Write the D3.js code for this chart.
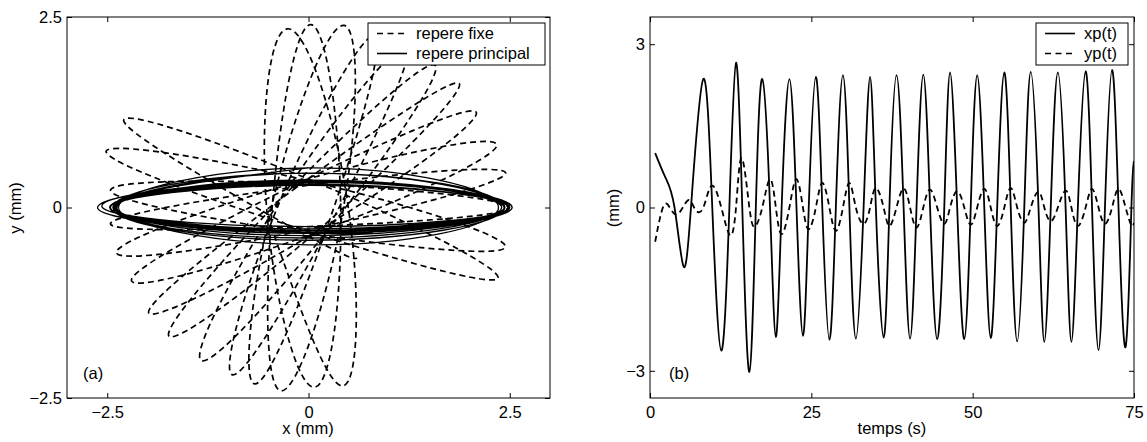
<!DOCTYPE html>
<html>
<head>
<meta charset="utf-8">
<script src="https://cdn.jsdelivr.net/npm/d3@7"></script>
<style>
body { margin: 0; background: #fff; }
text { font-family: "Liberation Sans", Arial, Helvetica, sans-serif; font-size: 16.5px; fill: #000; }
</style>
</head>
<body>
<script>
// panel (b), start of the record (before the motion settles)
var xpT0 = [0.8, 2.4, 3.8, 5.16, 6.35, 8.26, 9.65, 11.05, 12.3, 13.33, 14.3, 15.4, 16.4, 17.4];
var xpV0 = [1.0, 0.55, 0, -1.07, 0, 2.36, 0, -2.63, 0, 2.66, 0, -3.02, 0, 2.36];
var ypT0 = [0.8, 1.55, 2.58, 4.13, 5.84, 6.97, 8.26, 9.55, 11.05, 12.4, 13.33, 14.2, 15.4, 16.27, 17.4];
var ypV0 = [-0.63, -0.19, 0.07, -0.13, 0.13, -0.03, 0, 0.40, 0, -0.51, 0, 0.91, 0, -0.35, 0];

// settled part, sampled at the extrema / zero crossings (used by both panels)
var tq = [18.6, 19.5, 20.4, 21.6, 22.7, 23.7, 24.6, 25.7, 26.7, 27.8, 28.8, 29.9, 30.9, 31.9,
  33.1, 34.1, 35.0, 36.2, 37.1, 38.2, 39.3, 40.3, 41.3, 42.35, 43.4, 44.5, 45.6, 46.5, 47.6, 48.7,
  49.7, 50.7, 51.8, 52.8, 53.8, 54.9, 55.9, 56.9, 58.0, 59.0, 60.2, 61.1, 62.1, 63.2, 64.4, 65.3,
  66.3, 67.5, 68.5, 69.5, 70.5, 71.6, 72.6, 73.7, 74.6, 75.0];
var xq = [0, -2.38, 0, 2.36, 0, -2.36, 0, 2.40, 0, -2.43, 0, 2.43, 0, -2.41,
  0, 2.40, 0, -2.39, 0, 2.43, 0, -2.41, 0, 2.44, 0, -2.42, 0, 2.48, 0, -2.42,
  0, 2.43, 0, -2.40, 0, 2.48, 0, -2.46, 0, 2.49, 0, -2.47, 0, 2.48, 0, -2.47,
  0, 2.50, 0, -2.62, 0, 2.53, 0, -2.56, 0, 0.85];
var yq = [0.52, 0, -0.49, 0, 0.52, 0, -0.40, 0, 0.45, 0, -0.43, 0, 0.45, 0,
  -0.30, 0, 0.36, 0, -0.34, 0, 0.35, 0, -0.37, 0, 0.33, 0, -0.30, 0, 0.30, 0,
  -0.32, 0, 0.34, 0, -0.34, 0, 0.36, 0, -0.28, 0, 0.29, 0, -0.25, 0, 0.31, 0,
  -0.34, 0, 0.34, 0, -0.30, 0, 0.34, 0, -0.33, -0.28];
// orientation of the principal frame in the fixed frame (deg), read from the petals of (a)
var thq = [102.5, 100.4, 98.4, 96.4, 94, 91.7, 90.5, 89.3, 85.6, 81.9, 80.7, 79.5, 76.6, 73.8,
  71.9, 70, 68.3, 66.6, 63.3, 60, 58.2, 56.4, 53.1, 49.9, 47.1, 44.3, 42.6, 41, 38, 35,
  33, 31, 27.3, 23.7, 21.6, 19.5, 16.7, 14, 12.2, 10.5, 7.7, 5, 2.5, 0, -2.6, -5.3,
  -8.6, -12, -14.2, -16.4, -19, -21.5, -23.9, -26.3, -28.5, -29.5];

var xTicksA = [-2.5, 0, 2.5], yTicksA = [-2.5, 0, 2.5];
var xTicksB = [0, 25, 50, 75], yTicksB = [-3, 0, 3];

var svg = d3.select('body').append('svg').attr('width', 1147).attr('height', 442);

var xA = d3.scaleLinear().domain([-3, 3]).range([67, 550]);
var yA = d3.scaleLinear().domain([-2.5, 2.5]).range([398, 17]);
var xB = d3.scaleLinear().domain([0, 75]).range([650, 1134]);
var yB = d3.scaleLinear().domain([-3.5, 3.5]).range([398, 17]);

var fmt = function(d) { return d3.format('')(d); };

function clip(id, x, y) {
  svg.append('clipPath').attr('id', id).append('rect')
    .attr('x', x.range()[0]).attr('y', y.range()[1])
    .attr('width', x.range()[1] - x.range()[0]).attr('height', y.range()[0] - y.range()[1]);
}

function drawAxes(x, y, xt, yt) {
  var g = svg.append('g');
  var x0 = x.range()[0], x1 = x.range()[1], y0 = y.range()[0], y1 = y.range()[1];
  g.append('g').attr('transform', 'translate(0,' + y0 + ')')
    .call(d3.axisBottom(x).tickValues(xt).tickSizeInner(-5).tickSizeOuter(0).tickPadding(8).tickFormat(fmt));
  g.append('g').attr('transform', 'translate(0,' + y1 + ')')
    .call(d3.axisTop(x).tickValues(xt).tickSizeInner(-5).tickSizeOuter(0).tickFormat(''));
  g.append('g').attr('transform', 'translate(' + x0 + ',0)')
    .call(d3.axisLeft(y).tickValues(yt).tickSizeInner(-5).tickSizeOuter(0).tickPadding(5).tickFormat(fmt));
  g.append('g').attr('transform', 'translate(' + x1 + ',0)')
    .call(d3.axisRight(y).tickValues(yt).tickSizeInner(-5).tickSizeOuter(0).tickFormat(''));
  g.selectAll('.domain').remove();
  g.selectAll('.tick line').attr('stroke', '#000');
  g.append('rect').attr('x', x0).attr('y', y1).attr('width', x1 - x0).attr('height', y0 - y1)
    .attr('fill', 'none').attr('stroke', '#000').attr('stroke-width', 1);
}

function legend(x, y, w, h, items) {
  var g = svg.append('g');
  g.append('rect').attr('x', x).attr('y', y).attr('width', w).attr('height', h)
    .attr('fill', '#fff').attr('stroke', '#000');
  items.forEach(function(it, i) {
    var cy = y + 10.5 + i * 20;
    g.append('line').attr('x1', x + 9).attr('x2', x + 39).attr('y1', cy).attr('y2', cy)
      .attr('stroke', '#000').attr('stroke-width', 1.6)
      .attr('stroke-dasharray', it.dash ? '6,4.5' : null);
    g.append('text').attr('x', x + 48).attr('y', cy + 5).text(it.label);
  });
}

// ---------- panel (a) ----------
clip('clipA', xA, yA);
var principal = tq.map(function(t, i) { return {x: xq[i], y: yq[i]}; });
var fixe = tq.map(function(t, i) {
  var a = thq[i] * Math.PI / 180;
  return {x: xq[i] * Math.cos(a) - yq[i] * Math.sin(a), y: xq[i] * Math.sin(a) + yq[i] * Math.cos(a)};
});
var lineA = d3.line().x(function(d) { return xA(d.x); }).y(function(d) { return yA(d.y); })
  .curve(d3.curveNatural);
var gA = svg.append('g').attr('clip-path', 'url(#clipA)');
gA.append('path').attr('d', lineA(fixe)).attr('fill', 'none').attr('stroke', '#000')
  .attr('stroke-width', 1.7).attr('stroke-dasharray', '6,4');
gA.append('path').attr('d', lineA(principal)).attr('fill', 'none').attr('stroke', '#000')
  .attr('stroke-width', 1.3);
drawAxes(xA, yA, xTicksA, yTicksA);
legend(368, 23, 177, 42, [{label: 'repere fixe', dash: true}, {label: 'repere principal', dash: false}]);
svg.append('text').attr('x', 83).attr('y', 379).text('(a)');
svg.append('text').attr('x', 308).attr('y', 434).attr('text-anchor', 'middle').text('x (mm)');
svg.append('text').attr('transform', 'translate(21,208) rotate(-90)').attr('text-anchor', 'middle').text('y (mm)');

// ---------- panel (b) ----------
clip('clipB', xB, yB);
var xpT = xpT0.concat(tq), xpV = xpV0.concat(xq);
var ypT = ypT0.concat(tq), ypV = ypV0.concat(yq);
var lineB = d3.line().x(function(d) { return xB(d[0]); }).y(function(d) { return yB(d[1]); })
  .curve(d3.curveNatural);
var gB = svg.append('g').attr('clip-path', 'url(#clipB)');
gB.append('path').attr('d', lineB(d3.zip(ypT, ypV))).attr('fill', 'none').attr('stroke', '#000')
  .attr('stroke-width', 1.8).attr('stroke-dasharray', '6,4');
gB.append('path').attr('d', lineB(d3.zip(xpT, xpV))).attr('fill', 'none').attr('stroke', '#000')
  .attr('stroke-width', 1.8);
drawAxes(xB, yB, xTicksB, yTicksB);
legend(1036, 23, 92, 42, [{label: 'xp(t)', dash: false}, {label: 'yp(t)', dash: true}]);
svg.append('text').attr('x', 669).attr('y', 379).text('(b)');
svg.append('text').attr('x', 892).attr('y', 434).attr('text-anchor', 'middle').text('temps (s)');
svg.append('text').attr('transform', 'translate(619,208) rotate(-90)').attr('text-anchor', 'middle').text('(mm)');
</script>
</body>
</html>
